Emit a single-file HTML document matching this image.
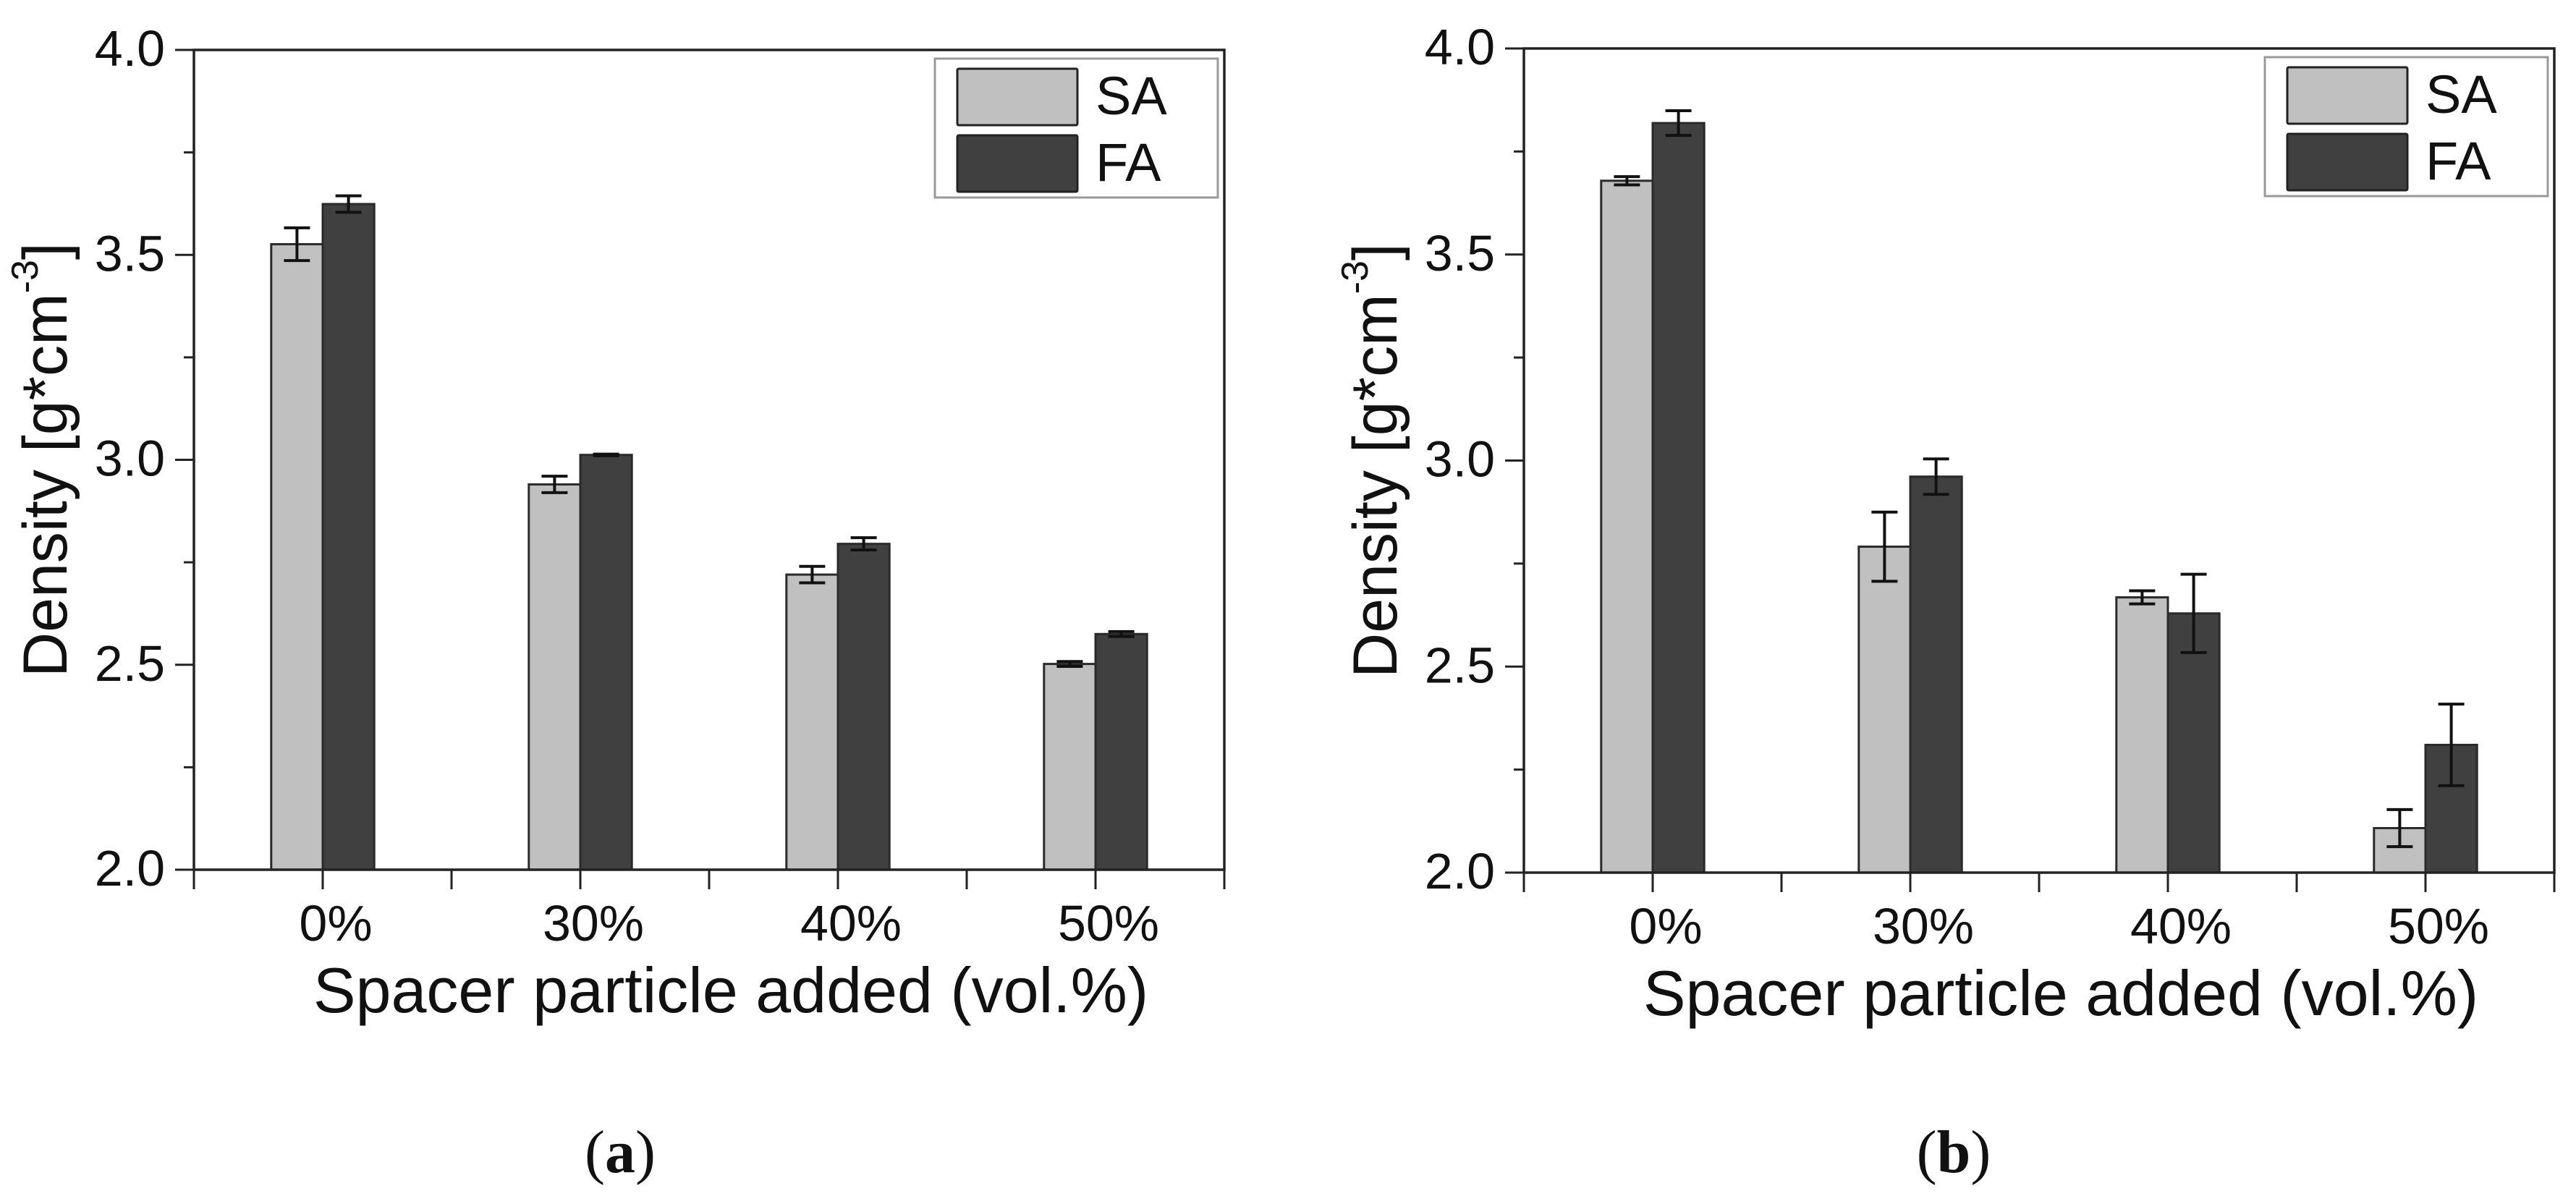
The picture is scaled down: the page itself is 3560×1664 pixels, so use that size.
<!DOCTYPE html>
<html><head><meta charset="utf-8">
<style>
html,body{margin:0;padding:0;background:#fff;}
svg{display:block;}
text{font-family:"Liberation Sans",Arial,sans-serif;fill:#111;}
.cap{font-family:"Liberation Serif","Times New Roman",serif;}
</style></head>
<body>
<svg id="fig" width="3560" height="1664" viewBox="0 0 3560 1664" xmlns="http://www.w3.org/2000/svg">
<rect width="3560" height="1664" fill="#fff"/>
</svg>
<script>
const categories = ["0%", "30%", "40%", "50%"];
const seriesNames = ["SA", "FA"];
const yTicks = ["2.0", "2.5", "3.0", "3.5", "4.0"];
const saA = [3.526, 2.94, 2.72, 2.502];
const saErrA = [0.04, 0.02, 0.02, 0.006];
const faA = [3.624, 3.012, 2.795, 2.575];
const faErrA = [0.02, 0.002, 0.015, 0.006];
const saB = [3.679, 2.791, 2.668, 2.108];
const saErrB = [0.01, 0.084, 0.016, 0.045];
const faB = [3.819, 2.961, 2.629, 2.31];
const faErrB = [0.03, 0.043, 0.095, 0.099];

const NS = "http://www.w3.org/2000/svg";
const svg = document.getElementById('fig');
function mk(tag, attrs, parent) {
  const e = document.createElementNS(NS, tag);
  for (const k in attrs) e.setAttribute(k, attrs[k]);
  (parent || svg).appendChild(e);
  return e;
}
const colors = ["#c0c0c0", "#404040"];

function panel(id, L, R, T, B, sa, saE, fa, faE, caption, capX) {
  const g = mk('g', {});
  
  
  const yMin = 2.0, yMax = 4.0;
  const y = v => B - (v - yMin) / (yMax - yMin) * (B - T);
  const cw = (R - L) / categories.length;
  const xc = i => L + cw * (i + 0.5);
  const bw = cw * 0.2;
  const vals = [sa, fa], errs = [saE, faE];
  for (let s = 0; s < 2; s++) {
    for (let i = 0; i < categories.length; i++) {
      const x0 = s === 0 ? xc(i) - bw : xc(i);
      const r = mk('rect', {x: x0, y: y(vals[s][i]), width: bw, height: B - y(vals[s][i]), fill: colors[s], stroke: "#2a2a2a", 'stroke-width': 3}, g);
      
      
    }
  }
  for (let s = 0; s < 2; s++) {
    for (let i = 0; i < categories.length; i++) {
      const cx = s === 0 ? xc(i) - bw / 2 : xc(i) + bw / 2;
      const eg = mk('g', {stroke: "#111", 'stroke-width': 4, fill: 'none'}, g);
      
      
      const hi = y(vals[s][i] + errs[s][i]), lo = y(vals[s][i] - errs[s][i]);
      mk('line', {x1: cx, x2: cx, y1: hi, y2: lo}, eg);
      mk('line', {x1: cx - 18, x2: cx + 18, y1: hi, y2: hi}, eg);
      mk('line', {x1: cx - 18, x2: cx + 18, y1: lo, y2: lo}, eg);
    }
  }
  const fr = mk('rect', {x: L, y: T, width: R - L, height: B - T, fill: 'none', stroke: '#222', 'stroke-width': 3.5}, g);
  
  
  const ya = mk('g', {stroke: '#222', 'stroke-width': 3}, g);
  
  
  for (let k = 0; k <= 8; k++) {
    const v = yMin + k * 0.25;
    const len = k % 2 === 0 ? 26 : 14;
    mk('line', {x1: L - len, x2: L, y1: y(v), y2: y(v)}, ya);
  }
  yTicks.forEach(t => {
    const tx = mk('text', {x: L - 40, y: y(parseFloat(t)) + 22, 'font-size': 70, 'text-anchor': 'end'}, g);
    tx.textContent = t;
    
    
  });
  const xa = mk('g', {stroke: '#222', 'stroke-width': 3}, g);
  
  
  for (let k = 0; k <= categories.length * 2; k++) {
    const xx = L + k * cw / 2;
    mk('line', {x1: xx, x2: xx, y1: B, y2: B + 27}, xa);
  }
  categories.forEach((c, i) => {
    const tx = mk('text', {x: xc(i) + 18, y: B + 98, 'font-size': 70, 'text-anchor': 'middle'}, g);
    tx.textContent = c;
    
    
  });
  const xt = mk('text', {x: (L + R) / 2 + 30, y: B + 197, 'font-size': 88, 'text-anchor': 'middle'}, g);
  xt.textContent = "Spacer particle added (vol.%)";
  
  
  const ytx = L - 176, yty = (T + B) / 2;
  const yt = mk('text', {x: ytx, y: yty, 'font-size': 86, 'text-anchor': 'middle', transform: `rotate(-90 ${ytx} ${yty})`}, g);
  
  
  yt.appendChild(document.createTextNode("Density [g*cm"));
  const sup = mk('tspan', {'font-size': 52, dy: -40}, yt);
  sup.textContent = "-3";
  const cl = mk('tspan', {dy: 40}, yt);
  cl.textContent = "]";
  const lg = mk('g', {}, g);
  
  
  mk('rect', {x: R - 400, y: T + 12, width: 391, height: 192, fill: '#fff', stroke: '#9a9a9a', 'stroke-width': 3}, lg);
  seriesNames.forEach((n, s) => {
    const ey = T + 26 + s * 92;
    const sw = mk('rect', {x: R - 369, y: ey, width: 166, height: 78, fill: colors[s], stroke: '#222', 'stroke-width': 3, rx: 2}, lg);
    
    
    const lt = mk('text', {x: R - 178, y: ey + 63, 'font-size': 74}, lg);
    lt.textContent = n;
    
    
  });
  const ct = mk('text', {x: capX, y: 1620, 'font-size': 84, 'text-anchor': 'middle', class: 'cap'}, g);
  
  
  ct.appendChild(document.createTextNode("("));
  const b = mk('tspan', {'font-weight': 'bold'}, ct);
  b.textContent = caption;
  ct.appendChild(document.createTextNode(")"));
}
panel('a', 268, 1692, 69, 1202, saA, saErrA, faA, faErrA, 'a', 857);
panel('b', 2106, 3530, 67, 1206, saB, saErrB, faB, faErrB, 'b', 2700);
</script>
</body></html>
